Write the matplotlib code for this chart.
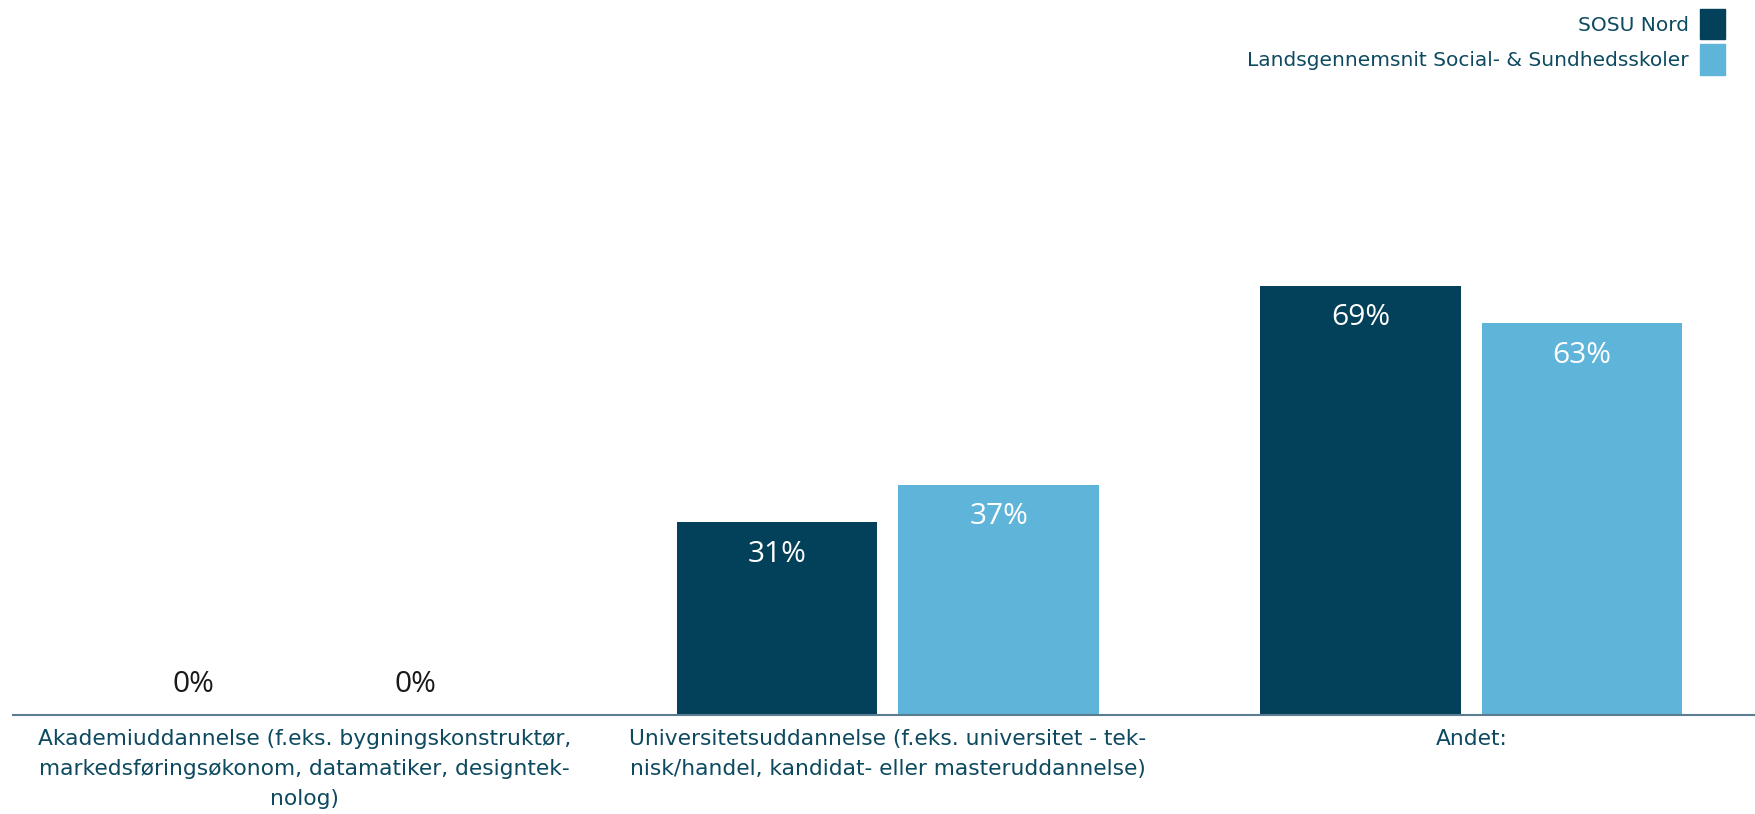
import matplotlib
matplotlib.use("Agg")
import matplotlib.pyplot as plt
from matplotlib.patches import Patch
import numpy as np

categories = [
    "Akademiuddannelse (f.eks. bygningskonstruktør,\nmarkedsføringsøkonom, datamatiker, designtek-\nnolog)",
    "Universitetsuddannelse (f.eks. universitet - tek-\nnisk/handel, kandidat- eller masteruddannelse)",
    "Andet:",
]
series_names = ["SOSU Nord", "Landsgennemsnit Social- & Sundhedsskoler"]
sosu_nord = [0, 31, 69]
landsgennemsnit = [0, 37, 63]

dark = "#034059"
light = "#5fb4da"
text_col = "#0d4a60"

fig = plt.figure(figsize=(17.56, 8.14), dpi=100)
ax = fig.add_axes([13 / 1756, 99 / 814, 1750 / 1756, (715 - 93) / 814])

x = np.arange(len(categories))
w = 0.344
off = 0.19
b1 = ax.bar(x - off, sosu_nord, w, color=dark, label=series_names[0])
b2 = ax.bar(x + off, landsgennemsnit, w, color=light, label=series_names[1])

ax.set_xlim(-0.5, 2.5)
ax.set_ylim(0, 100)

vfont = dict(family="Open Sans", fontsize=21.5)
for bars, vals in ((b1, sosu_nord), (b2, landsgennemsnit)):
    for rect, v in zip(bars, vals):
        cx = rect.get_x() + rect.get_width() / 2
        if v > 6:
            ax.annotate(f"{v}%", (cx, v), xytext=(0, -32), textcoords="offset pixels",
                        ha="center", va="center", color="white", **vfont)
        else:
            ax.annotate(f"{v}%", (cx, v), xytext=(0, 31), textcoords="offset pixels",
                        ha="center", va="center", color="#1a1a1a", **vfont)

ax.set_xticks(x)
ax.set_xticklabels(categories, fontsize=15.7, color=text_col, family="DejaVu Sans Condensed",
                   linespacing=1.62, va="top")
ax.tick_params(axis="x", length=0, pad=10)
ax.set_yticks([])
for s in ("top", "right", "left"):
    ax.spines[s].set_visible(False)
ax.spines["bottom"].set_color("#5a7d92")
ax.spines["bottom"].set_linewidth(1.5)

handles = [Patch(color=dark), Patch(color=light)]
leg = fig.legend(handles, series_names, loc="upper right", bbox_to_anchor=(1725 / 1756, 1 - 9 / 814),
                 markerfirst=False, frameon=False, handlelength=1.25, handleheight=1.95,
                 handletextpad=0.55, labelspacing=0.25, borderaxespad=0, borderpad=0,
                 prop=dict(family="DejaVu Sans Condensed", size=14.5))
for t in leg.get_texts():
    t.set_color(text_col)

fig.savefig("out.png", dpi=100)
